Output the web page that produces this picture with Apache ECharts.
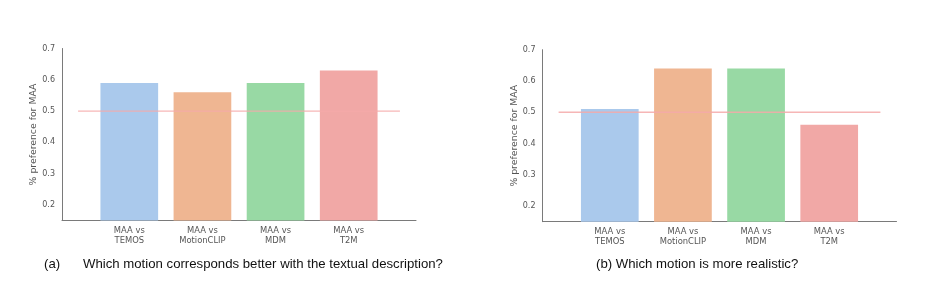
<!DOCTYPE html>
<html>
<head>
<meta charset="utf-8">
<script src="https://cdn.jsdelivr.net/npm/echarts@6/dist/echarts.min.js"></script>
<style>html,body{margin:0;padding:0;background:#fff}#c{width:952px;height:293px}</style>
</head>
<body>
<div id="c"></div>
<script>
const categories = ['MAA vs\nTEMOS', 'MAA vs\nMotionCLIP', 'MAA vs\nMDM', 'MAA vs\nT2M'];
const textValues = [0.59, 0.56, 0.59, 0.63];
const realismValues = [0.51, 0.64, 0.64, 0.46];
const barColors = ['#aac9ec', '#efb692', '#98d9a4', '#f1a8a6'];
const yTicks = [0.2, 0.3, 0.4, 0.5, 0.6, 0.7];
const refValue = 0.5;
const refSpan = [-0.7, 3.7];
const yName = '% preference for MAA';
const captionA = ['(a)', 'Which motion corresponds better with the textual description?'];
const captionB = '(b) Which motion is more realistic?';

const chart = echarts.init(document.getElementById('c'), null, {renderer: 'canvas'});
const grids = [
  {left: 62, top: 48.5, width: 354, height: 172},
  {left: 542.5, top: 49.7, width: 354, height: 172}
];
function xAxis(i) {
  return {
    type: 'value', gridIndex: i, min: -0.92, max: 3.92,
    splitLine: {show: false},
    axisLine: {show: true, onZero: false, lineStyle: {color: '#7a7a7a', width: 1}},
    axisTick: {show: false},
    axisLabel: {
      customValues: [0, 1, 2, 3],
      formatter: v => categories[Math.round(v)],
      fontFamily: 'DejaVu Sans', fontSize: 8.4, color: '#555', lineHeight: 10, margin: 5
    }
  };
}
function yAxis(i) {
  return {
    type: 'value', gridIndex: i, min: 0.15, max: 0.7,
    name: yName, nameLocation: 'middle', nameRotate: 90, nameGap: 22,
    nameTextStyle: {fontFamily: 'DejaVu Sans', fontSize: 9.3, color: '#555'},
    splitLine: {show: false},
    axisLine: {show: true, onZero: false, lineStyle: {color: '#7a7a7a', width: 1}},
    axisTick: {show: false},
    axisLabel: {
      customValues: yTicks,
      formatter: v => v.toFixed(1),
      fontFamily: 'DejaVu Sans', fontSize: 8, color: '#555', margin: 7
    }
  };
}
function bars(i, vals) {
  return {
    type: 'bar', xAxisIndex: i, yAxisIndex: i, barWidth: 57.7, clip: true,
    data: vals.map((v, k) => ({value: [k, v], itemStyle: {color: barColors[k]}})),
    z: 2
  };
}
function ref(i) {
  return {
    type: 'line', xAxisIndex: i, yAxisIndex: i, symbol: 'none', silent: true,
    data: refSpan.map(x => [x, refValue]),
    lineStyle: {color: '#f5a9a9', width: 1.3, opacity: 0.85},
    z: 5
  };
}
const capStyle = {fontFamily: 'Liberation Sans', fontSize: 13.2, color: '#111', fontWeight: 'normal'};
chart.setOption({
  animation: false,
  grid: grids,
  xAxis: [xAxis(0), xAxis(1)],
  yAxis: [yAxis(0), yAxis(1)],
  title: [
    {text: captionA[0], left: 44, top: 257.5, padding: 0, textStyle: capStyle},
    {text: captionA[1], left: 83, top: 257.5, padding: 0, textStyle: capStyle},
    {text: captionB, left: 596, top: 257.5, padding: 0, textStyle: capStyle}
  ],
  series: [bars(0, textValues), ref(0), bars(1, realismValues), ref(1)]
});
</script>
</body>
</html>
